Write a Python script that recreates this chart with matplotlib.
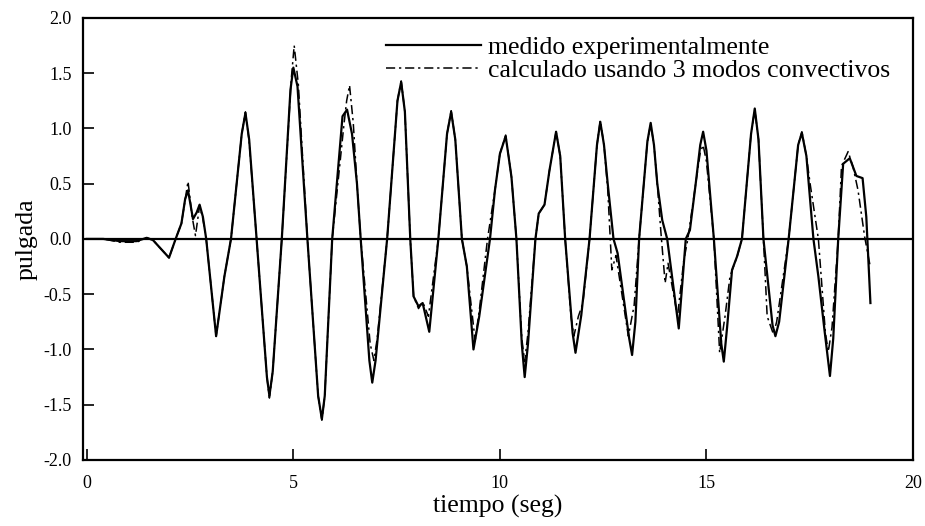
import matplotlib
matplotlib.use("Agg")
import matplotlib.pyplot as plt
import numpy as np

plt.rcParams['font.family'] = ['Liberation Serif', 'DejaVu Serif']
plt.rcParams['axes.unicode_minus'] = False

# desplazamiento medido en el ensayo (pulgadas vs segundos)
medido_t = [0.0, 0.4, 0.8, 1.2, 1.45, 1.6, 1.99, 2.15, 2.29, 2.38, 2.45, 2.57, 2.66, 2.73,
            2.81, 2.89, 3.13, 3.33, 3.49, 3.75, 3.84, 3.93, 4.11, 4.36, 4.42, 4.50, 4.72,
            4.93, 5.00, 5.10, 5.34, 5.60, 5.69, 5.76, 5.94, 6.19, 6.30, 6.42, 6.54, 6.63,
            6.84, 6.91, 6.99, 7.27, 7.52, 7.61, 7.70, 7.83, 7.91, 8.03, 8.13, 8.29, 8.51,
            8.72, 8.82, 8.92, 9.08, 9.20, 9.36, 9.50, 9.76, 9.88, 10.00, 10.14, 10.28,
            10.40, 10.53, 10.60, 10.68, 10.86, 10.94, 11.08, 11.20, 11.36, 11.46, 11.58,
            11.76, 11.83, 11.97, 12.17, 12.35, 12.43, 12.52, 12.61, 12.75, 12.85, 13.13,
            13.20, 13.28, 13.37, 13.57, 13.65, 13.73, 13.81, 13.93, 14.05, 14.33, 14.50,
            14.60, 14.74, 14.85, 14.92, 15.00, 15.18, 15.36, 15.42, 15.50, 15.62, 15.74,
            15.86, 16.08, 16.17, 16.26, 16.38, 16.60, 16.67, 16.76, 16.99, 17.22, 17.31,
            17.42, 17.59, 17.71, 17.85, 17.99, 18.07, 18.19, 18.31, 18.47, 18.63, 18.78,
            18.87, 18.97]
medido_v = [0.0, 0.0, -0.02, -0.02, 0.01, -0.01, -0.17, 0.0, 0.14, 0.36, 0.44, 0.18, 0.24,
            0.31, 0.20, 0.0, -0.88, -0.34, 0.0, 0.95, 1.14, 0.90, 0.0, -1.25, -1.42, -1.20,
            0.0, 1.35, 1.55, 1.38, 0.0, -1.42, -1.63, -1.42, 0.0, 1.11, 1.17, 0.95, 0.50,
            0.0, -1.10, -1.30, -1.10, 0.0, 1.25, 1.42, 1.15, 0.0, -0.52, -0.61, -0.58,
            -0.84, 0.0, 0.95, 1.15, 0.90, 0.0, -0.25, -1.00, -0.70, 0.0, 0.44, 0.77, 0.93,
            0.56, 0.0, -0.95, -1.25, -0.95, 0.0, 0.23, 0.31, 0.62, 0.97, 0.75, 0.0, -0.85,
            -1.03, -0.69, 0.0, 0.85, 1.06, 0.85, 0.50, 0.0, -0.13, -0.90, -1.05, -0.75, 0.0,
            0.88, 1.05, 0.85, 0.50, 0.17, 0.0, -0.81, 0.0, 0.08, 0.50, 0.85, 0.97, 0.80,
            0.0, -0.95, -1.11, -0.80, -0.28, -0.16, 0.0, 0.95, 1.18, 0.90, 0.0, -0.78,
            -0.88, -0.75, 0.0, 0.85, 0.96, 0.75, 0.0, -0.34, -0.80, -1.24, -0.90, 0.0,
            0.68, 0.73, 0.57, 0.55, 0.20, -0.58]

# respuesta calculada con 3 modos convectivos
calc_t = [0.0, 0.4, 0.8, 1.2, 1.45, 1.6, 1.99, 2.15, 2.29, 2.45, 2.55, 2.63, 2.73, 2.81,
          2.89, 3.13, 3.33, 3.49, 3.75, 3.84, 3.93, 4.11, 4.36, 4.42, 4.50, 4.72, 4.95,
          5.02, 5.12, 5.34, 5.60, 5.69, 5.76, 5.94, 6.22, 6.29, 6.36, 6.45, 6.54, 6.63,
          6.86, 6.95, 7.03, 7.27, 7.52, 7.61, 7.70, 7.83, 7.91, 8.03, 8.13, 8.27, 8.51,
          8.72, 8.82, 8.92, 9.08, 9.20, 9.40, 9.50, 9.70, 9.88, 10.00, 10.14, 10.28, 10.40,
          10.53, 10.60, 10.68, 10.86, 10.94, 11.08, 11.20, 11.36, 11.46, 11.58, 11.72,
          11.79, 11.90, 12.01, 12.17, 12.35, 12.43, 12.52, 12.61, 12.71, 12.81, 13.11,
          13.25, 13.37, 13.57, 13.65, 13.73, 13.81, 13.90, 14.00, 14.07, 14.30, 14.45,
          14.55, 14.74, 14.85, 14.92, 15.00, 15.18, 15.32, 15.45, 15.57, 15.75, 15.86,
          16.08, 16.17, 16.26, 16.38, 16.47, 16.62, 16.70, 16.99, 17.22, 17.31, 17.42,
          17.51, 17.71, 17.88, 17.95, 18.04, 18.19, 18.27, 18.43, 18.55, 18.67, 18.83,
          18.97]
calc_v = [0.0, 0.0, -0.03, -0.03, 0.01, -0.01, -0.17, 0.0, 0.14, 0.52, 0.20, 0.03, 0.30,
          0.18, 0.0, -0.88, -0.34, 0.0, 0.95, 1.15, 0.88, 0.0, -1.25, -1.44, -1.20, 0.0,
          1.45, 1.75, 1.40, 0.0, -1.42, -1.64, -1.42, 0.0, 1.02, 1.25, 1.39, 1.05, 0.50,
          0.0, -0.95, -1.10, -0.90, 0.0, 1.25, 1.43, 1.15, 0.0, -0.52, -0.63, -0.57, -0.70,
          0.0, 0.95, 1.16, 0.90, 0.0, -0.25, -0.92, -0.65, 0.0, 0.44, 0.77, 0.94, 0.56,
          0.0, -0.90, -1.11, -0.85, 0.0, 0.23, 0.31, 0.62, 0.97, 0.75, 0.0, -0.70, -0.88,
          -0.70, -0.58, 0.0, 0.85, 1.07, 0.85, 0.45, -0.28, -0.15, -0.88, -0.60, 0.0, 0.88,
          1.04, 0.85, 0.50, 0.05, -0.40, -0.22, -0.70, -0.20, 0.0, 0.50, 0.78, 0.85, 0.70,
          0.0, -1.03, -0.70, -0.34, -0.15, 0.0, 0.95, 1.17, 0.90, 0.0, -0.70, -0.86, -0.75,
          0.0, 0.85, 0.97, 0.75, 0.50, 0.0, -0.85, -1.02, -0.80, 0.0, 0.66, 0.79, 0.65,
          0.44, 0.02, -0.26]

fig = plt.figure(figsize=(9.25, 5.26), dpi=100)
ax = fig.add_axes([0.0894, 0.1255, 0.8976, 0.8405])

ax.axhline(0.0, color='black', lw=1.6, zorder=1)
ax.plot(medido_t, medido_v, color='black', lw=1.6, solid_joinstyle='round',
        label='medido experimentalmente')
ax.plot(calc_t, calc_v, color='black', lw=1.1, dashes=(6, 2.5, 1.5, 2.5),
        label='calculado usando 3 modos convectivos')

ax.set_xlim(-0.1, 19.9)
ax.set_ylim(-2.0, 2.0)
ax.set_xticks([0, 5, 10, 15, 20])
ax.set_yticks(np.arange(-2.0, 2.01, 0.5))
ax.yaxis.set_major_formatter(matplotlib.ticker.FormatStrFormatter('%.1f'))
ax.tick_params(direction='in', length=8, width=1.2, labelsize=13, pad=8)
ax.tick_params(axis='x', pad=11)
for s in ax.spines.values():
    s.set_linewidth(1.6)

ax.set_xlabel('tiempo (seg)', fontsize=18.5, labelpad=2)
ax.set_ylabel('pulgada', fontsize=18.5, labelpad=4)

ax.legend(loc='upper right', bbox_to_anchor=(0.994, 1.0), frameon=False,
          fontsize=18.5, handlelength=3.7, handletextpad=0.27, labelspacing=0.02,
          borderpad=0.2)

plt.savefig('out.png', dpi=100)
